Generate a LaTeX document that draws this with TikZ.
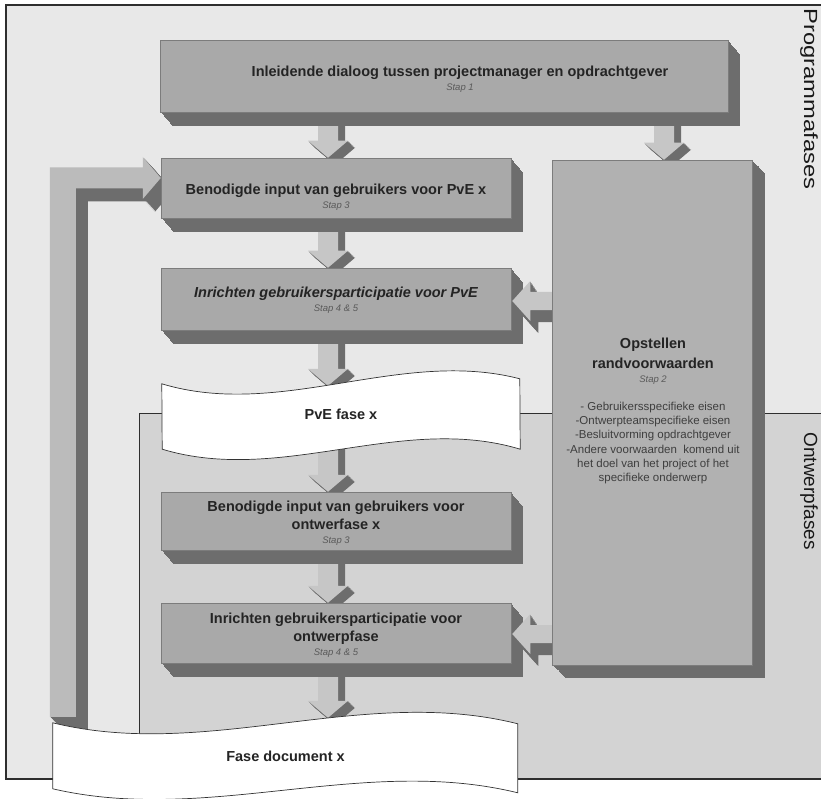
\documentclass[tikz,border=0pt]{standalone}
\usepackage{fontspec}
\usepackage{graphicx}
\setmainfont{Liberation Sans}
\usetikzlibrary{calc}

\pgfdeclarelayer{regions}
\pgfdeclarelayer{arrows}
\pgfdeclarelayer{docs}
\pgfdeclarelayer{top}
\pgfsetlayers{regions,arrows,docs,main,top}

\definecolor{bgup}{HTML}{E8E8E8}
\definecolor{bglow}{HTML}{D3D3D3}
\definecolor{face}{HTML}{A9A9A9}
\definecolor{faceB}{HTML}{B1B1B1}
\definecolor{edge}{HTML}{7C7C7C}
\definecolor{side}{HTML}{6D6D6D}
\definecolor{aface}{HTML}{C6C6C6}
\definecolor{fbface}{HTML}{BBBBBB}
\definecolor{frameln}{HTML}{2E2E2E}
\definecolor{txt}{HTML}{242424}
\definecolor{staptxt}{HTML}{5A5A5A}
\definecolor{listtxt}{HTML}{3E3E3E}

\newcommand\stapf{\fontsize{9.5}{11}\selectfont\mdseries\itshape\color{staptxt}}

\tikzset{
  % solid depth of a face, built from stacked shifted copies (dx, dy in pt)
  extrude/.style 2 args={
    preaction={fill=side,draw=none,transform canvas={shift={({#1*1/12*1pt},{-#2*1/12*1pt})}}},
    preaction={fill=side,draw=none,transform canvas={shift={({#1*2/12*1pt},{-#2*2/12*1pt})}}},
    preaction={fill=side,draw=none,transform canvas={shift={({#1*3/12*1pt},{-#2*3/12*1pt})}}},
    preaction={fill=side,draw=none,transform canvas={shift={({#1*4/12*1pt},{-#2*4/12*1pt})}}},
    preaction={fill=side,draw=none,transform canvas={shift={({#1*5/12*1pt},{-#2*5/12*1pt})}}},
    preaction={fill=side,draw=none,transform canvas={shift={({#1*6/12*1pt},{-#2*6/12*1pt})}}},
    preaction={fill=side,draw=none,transform canvas={shift={({#1*7/12*1pt},{-#2*7/12*1pt})}}},
    preaction={fill=side,draw=none,transform canvas={shift={({#1*8/12*1pt},{-#2*8/12*1pt})}}},
    preaction={fill=side,draw=none,transform canvas={shift={({#1*9/12*1pt},{-#2*9/12*1pt})}}},
    preaction={fill=side,draw=none,transform canvas={shift={({#1*10/12*1pt},{-#2*10/12*1pt})}}},
    preaction={fill=side,draw=none,transform canvas={shift={({#1*11/12*1pt},{-#2*11/12*1pt})}}},
    preaction={fill=side,draw=none,transform canvas={shift={({#1*12/12*1pt},{-#2*12/12*1pt})}}}
  },
  slabface/.style={rectangle, fill=face, draw=edge, line width=0.5pt, inner sep=0pt},
  slab/.style={slabface, extrude={12}{14}},
  boxtxt/.style={font=\bfseries\fontsize{14.5}{18}\selectfont, text=txt, align=center, inner sep=0pt},
  listtext/.style={font=\fontsize{11.5}{14.2}\selectfont, text=listtxt, align=center, inner sep=0pt},
  doctxt/.style={font=\bfseries\fontsize{14.5}{18}\selectfont, text=txt, inner sep=0pt},
  docshape/.style={fill=white, draw=black!80, line width=0.7pt},
  sidelbl/.style={font=\fontsize{19}{22}\selectfont, text=black!90, inner sep=0pt, rotate=-90},
  frame/.style={draw=frameln, line width=1.3pt},
  % block arrow pointing down, tip at the target
  dnblock/.style={fill=aface, draw=none, extrude={7}{7},
    to path={let \p1=(\tikztostart), \p2=(\tikztotarget) in
      (\x1-10,\y1) -- (\x1-10,\y2+17) -- (\x1-20,\y2+17) -- (\x1,\y2)
      -- (\x1+20,\y2+17) -- (\x1+10,\y2+17) -- (\x1+10,\y1) -- cycle}},
  % block arrow pointing left, tip at the target
  lfblock/.style={fill=aface, draw=none, extrude={8}{12},
    to path={let \p1=(\tikztostart), \p2=(\tikztotarget) in
      (\x1,\y2+9) -- (\x2+18,\y2+9) -- (\x2+18,\y2+20) -- (\x2,\y2)
      -- (\x2+18,\y2-20) -- (\x2+18,\y2-9) -- (\x1,\y2-9) -- cycle}},
  % return arrow: up the left side, then right into the target
  fbblock/.style={fill=fbface, draw=none, extrude={12}{13},
    to path={let \p1=(\tikztostart), \p2=(\tikztotarget) in
      (\x1-13,\y1) -- (\x1-13,\y2+10.5) -- (\x2-18,\y2+10.5) -- (\x2-18,\y2+21)
      -- (\x2,\y2) -- (\x2-18,\y2-21) -- (\x2-18,\y2-10.5) -- (\x1+13,\y2-10.5)
      -- (\x1+13,\y1) -- cycle}}
}

\begin{document}
\begin{tikzpicture}[x=1pt,y=-1pt]
\useasboundingbox (0,0) rectangle (821,799);

% phase regions
\begin{pgfonlayer}{regions}
  \fill[white] (0,0) rectangle (821,799);
  \fill[bgup] (6,5) rectangle (821,779);
  \fill[bglow] (139,413) rectangle (821,779);
  \draw[frame] (821,5) -- (6,5) -- (6,779) -- (821,779);
  \draw[frame, line width=1pt] (139,779) -- (139,413) -- (821,413);
\end{pgfonlayer}

% step blocks
\node[slab, minimum width=568pt, minimum height=72pt] (b1) at (444,76) {};
\node[slab, minimum width=350pt, minimum height=60pt] (b2) at (336,188) {};
\node[slab, minimum width=350pt, minimum height=62pt] (b3) at (336,299) {};
\node[slab, minimum width=350pt, minimum height=58pt] (b6) at (336,521) {};
\node[slab, minimum width=350pt, minimum height=60pt] (b7) at (336,633) {};
\node[slabface, fill=faceB, extrude={13}{13}, minimum width=200pt, minimum height=505pt] (big) at (652,412.5) {};

% block texts
\node[boxtxt] (t1) at (460,79) {Inleidende dialoog tussen projectmanager en opdrachtgever\\[-4pt]{\stapf Stap 1}};
\node[boxtxt] (t2) at (336,197) {Benodigde input van gebruikers voor PvE x\\[-4pt]{\stapf Stap 3}};
\node[boxtxt] (t3) at (336,300) {{\itshape Inrichten gebruikersparticipatie voor PvE}\\[-4pt]{\stapf Stap 4 \& 5}};
\node[boxtxt] (t6) at (336,523) {Benodigde input van gebruikers voor\\ontwerfase x\\[-4.5pt]{\stapf Stap 3}};
\node[boxtxt] (t7) at (336,635) {Inrichten gebruikersparticipatie voor\\ontwerpfase\\[-4.5pt]{\stapf Stap 4 \& 5}};
\node[boxtxt] (tb) at (653,361) {Opstellen\\[1.5pt]randvoorwaarden\\[-4pt]{\stapf Stap 2}};
\node[listtext] (tl) at (653,443) {- Gebruikersspecifieke eisen\\-Ontwerpteamspecifieke eisen\\-Besluitvorming opdrachtgever\\-Andere voorwaarden\ \ komend uit\\het doel van het project of het\\specifieke onderwerp};

% documents
\node[doctxt, minimum width=358pt, minimum height=70pt] (pve) at (341,414) {PvE fase x};
\node[doctxt, minimum width=465pt, minimum height=66pt] (fdoc) at (285.5,756) {Fase document x};
\begin{pgfonlayer}{docs}
  \draw[docshape] ($(pve.north west)+(0,5)$) .. controls +(119.3,36) and +(-119.3,-31) .. ++(358,-5)
     -- (pve.south east) .. controls +(-119.3,-36) and +(119.3,36) .. ++(-358,0) -- cycle;
  \draw[docshape] (fdoc.north west) .. controls +(155,38) and +(-155,-39) .. ++(465,1)
     -- ++(0,69) .. controls +(-155,-38) and +(155,36) .. ++(-465,-4) -- cycle;
\end{pgfonlayer}

% flow arrows
\begin{pgfonlayer}{arrows}
  \path[dnblock] ($(b1.south -| b2.north)+(-8,4)$) to ($(b2.north)+(-8,0)$);
  \path[dnblock] ($(b1.south -| big.north)+(12,4)$) to ($(big.north)+(12,0)$);
  \path[dnblock] ($(b2.south)+(-8,4)$) to ($(b3.north)+(-8,0)$);
  \path[dnblock] ($(b3.south)+(-8,4)$) to ($(pve.north -| b3.south)+(-8,7)$);
  \path[dnblock] ($(pve.south -| b6.north)+(-8,-8)$) to ($(b6.north)+(-8,0)$);
  \path[dnblock] ($(b6.south)+(-8,4)$) to ($(b7.north)+(-8,0)$);
  \path[dnblock] ($(b7.south)+(-8,4)$) to ($(fdoc.north -| b7.south)+(-8,-5)$);
  \path[fbblock] ($(fdoc.north west)+(10,-6)$) to ($(b2.west)+(0,-10)$);
\end{pgfonlayer}

\begin{pgfonlayer}{top}
  \begin{scope}
    \clip ($(big.north west)+(-600,0)$) rectangle (big.south west);
    \path[lfblock] (b3.east -| big.west) to ($(b3.east)+(1,2)$);
    \path[lfblock] (b7.east -| big.west) to ($(b7.east)+(1,1)$);
  \end{scope}
\end{pgfonlayer}

% phase labels
\node[sidelbl] (lp) at (809,99) {\scalebox{1.25}[1]{Programmafases}};
\node[sidelbl] (lo) at (809,491) {Ontwerpfases};
\end{tikzpicture}
\end{document}
